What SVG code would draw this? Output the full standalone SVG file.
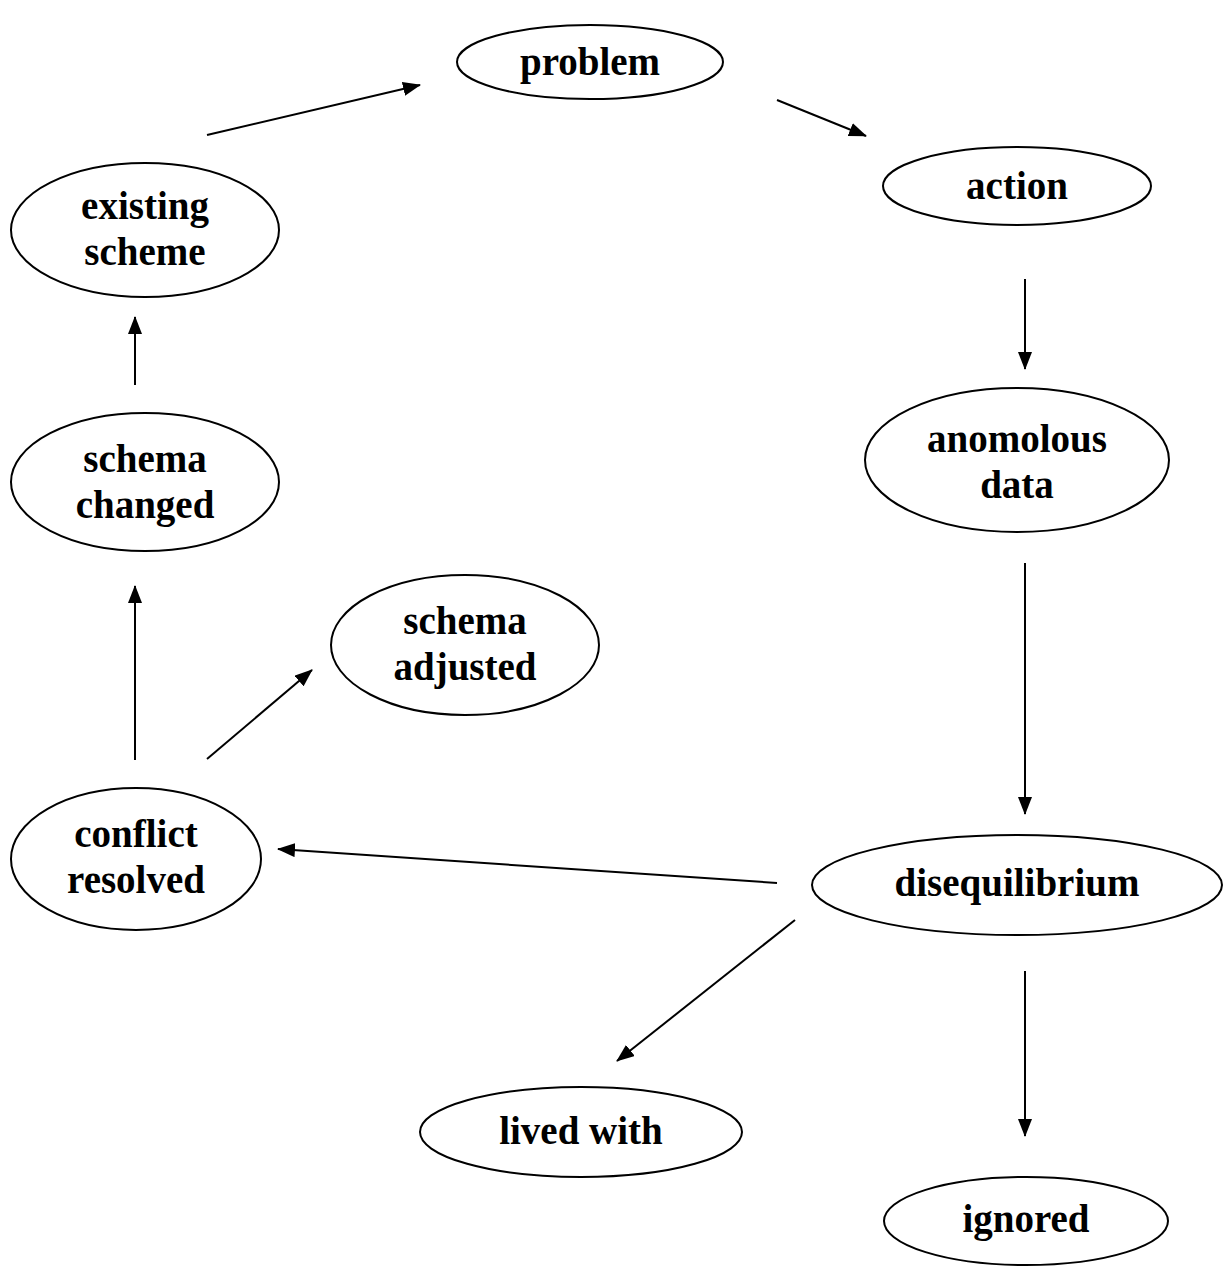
<svg xmlns="http://www.w3.org/2000/svg" width="1225" height="1275" viewBox="0 0 1225 1275">
<defs>
<marker id="ah" markerWidth="18" markerHeight="14" refX="17" refY="7" orient="auto" markerUnits="userSpaceOnUse">
<path d="M0,0 L18,7 L0,14 Z" fill="#000"/>
</marker>
<style>
.n ellipse{fill:#fff;stroke:#000;stroke-width:2}
.n text{font-family:'Liberation Serif',serif;font-weight:700;font-size:39px;text-anchor:middle;fill:#000}
.c line{stroke:#000;stroke-width:2;marker-end:url(#ah)}
</style>
</defs>
<rect width="1225" height="1275" fill="#fff"/>
<g id="problem" class="n"><ellipse cx="590" cy="62" rx="133" ry="37"/><text x="590" y="75">problem</text></g>
<g id="action" class="n"><ellipse cx="1017" cy="186" rx="134" ry="39"/><text x="1017" y="199">action</text></g>
<g id="existing-scheme" class="n"><ellipse cx="145" cy="230" rx="134" ry="67"/><text x="145" y="219">existing</text><text x="145" y="265">scheme</text></g>
<g id="schema-changed" class="n"><ellipse cx="145" cy="482" rx="134" ry="69"/><text x="145" y="472">schema</text><text x="145" y="518">changed</text></g>
<g id="anomolous-data" class="n"><ellipse cx="1017" cy="460" rx="152" ry="72"/><text x="1017" y="452">anomolous</text><text x="1017" y="498">data</text></g>
<g id="schema-adjusted" class="n"><ellipse cx="465" cy="645" rx="134" ry="70"/><text x="465" y="634">schema</text><text x="465" y="680">adjusted</text></g>
<g id="conflict-resolved" class="n"><ellipse cx="136" cy="859" rx="125" ry="71"/><text x="136" y="847">conflict</text><text x="136" y="893">resolved</text></g>
<g id="disequilibrium" class="n"><ellipse cx="1017" cy="885" rx="205" ry="50"/><text x="1017" y="896">disequilibrium</text></g>
<g id="lived-with" class="n"><ellipse cx="581" cy="1132" rx="161" ry="45"/><text x="581" y="1144">lived with</text></g>
<g id="ignored" class="n"><ellipse cx="1026" cy="1221" rx="142" ry="44"/><text x="1026" y="1232">ignored</text></g>
<g id="connectors" class="c">
<line x1="207" y1="135" x2="420" y2="85"/>
<line x1="777" y1="100" x2="866" y2="136"/>
<line x1="1025" y1="279" x2="1025" y2="369"/>
<line x1="1025" y1="563" x2="1025" y2="814"/>
<line x1="777" y1="883" x2="278" y2="849"/>
<line x1="795" y1="920" x2="617" y2="1061"/>
<line x1="1025" y1="971" x2="1025" y2="1136"/>
<line x1="135" y1="760" x2="135" y2="586"/>
<line x1="207" y1="759" x2="312" y2="670"/>
<line x1="135" y1="385" x2="135" y2="317"/>
</g>
</svg>
